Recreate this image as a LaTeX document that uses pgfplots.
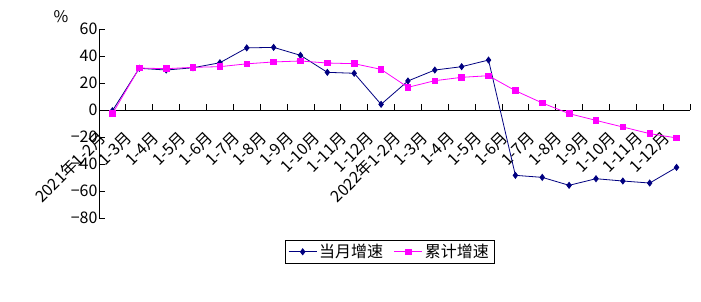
\documentclass[border=0pt]{standalone}
\usepackage{fontspec}
\setmainfont{Noto Sans CJK SC}
\usepackage{pgfplots}
\pgfplotsset{compat=1.18}
\definecolor{navyc}{RGB}{0,0,128}
\definecolor{magc}{RGB}{255,0,255}
\newcommand{\lblfont}{\fontsize{16}{18}\selectfont}
\begin{document}
\begin{tikzpicture}
\path[use as bounding box] (0,0) rectangle (701pt,302pt);
\node[font=\lblfont] at (61pt,285pt) {\%};
\begin{axis}[
  at={(99pt,84pt)}, anchor=south west,
  scale only axis, width=591pt, height=189pt,
  xmin=0.5, xmax=22.5, ymin=-80, ymax=60,
  axis x line*=middle, axis y line*=left,
  axis line style={black, line width=0.8pt},
  xtick={0.5,1.5,...,22.5}, xticklabels={},
  xtick align=inside, ytick align=inside,
  major tick length=6pt,
  tick style={black, line width=0.8pt},
  ytick={-80,-60,...,60},
  yticklabels={−80,−60,−40,−20,0,20,40,60},
  yticklabel style={font=\lblfont, xshift=2pt},
  extra x ticks={1,...,22},
  extra x tick labels={2021年1-2月,1-3月,1-4月,1-5月,1-6月,1-7月,1-8月,1-9月,1-10月,1-11月,1-12月,2022年1-2月,1-3月,1-4月,1-5月,1-6月,1-7月,1-8月,1-9月,1-10月,1-11月,1-12月},
  extra x tick style={major tick length=0pt},
  xticklabel style={font=\lblfont, xshift=-10pt, yshift=-25pt, rotate=45, anchor=east, inner sep=0pt},
  legend columns=2,
  legend style={at={(0.3147,-0.1164)}, anchor=north west, draw=black, line width=0.6pt,
    font=\lblfont, inner xsep=3pt, inner ysep=2pt,
    /tikz/every even column/.append style={column sep=9pt},
    /tikz/every odd column/.append style={column sep=0pt}},
  legend image code/.code={\draw[mark repeat=2,mark phase=2,#1] plot coordinates {(0pt,0pt)(14pt,0pt)(28pt,0pt)};},
  clip=false,
]
\addplot[color=navyc, line width=0.8pt, mark=diamond*, mark size=3pt, mark options={fill=navyc}]
coordinates {(1,-0.5)(2,30.9)(3,29.6)(4,31.3)(5,35)(6,46)(7,46.4)(8,40.5)(9,27.9)(10,27.2)(11,4.2)(12,21.5)(13,29.6)(14,32.1)(15,37)(16,-48.4)(17,-49.9)(18,-55.8)(19,-50.9)(20,-52.6)(21,-54.1)(22,-42.5)};
\addlegendentry{当月增速}
\addplot[color=magc, line width=0.8pt, mark=square*, mark size=2.8pt, mark options={fill=magc}]
coordinates {(1,-2.7)(2,31.1)(3,30.6)(4,31.6)(5,32.1)(6,34.2)(7,35.6)(8,36.3)(9,34.8)(10,34.3)(11,30.1)(12,16.8)(13,21.7)(14,24.2)(15,25.4)(16,14.3)(17,5.2)(18,-2.7)(19,-7.7)(20,-12.6)(21,-17.5)(22,-20.7)};
\addlegendentry{累计增速}
\end{axis}
\end{tikzpicture}
\end{document}
